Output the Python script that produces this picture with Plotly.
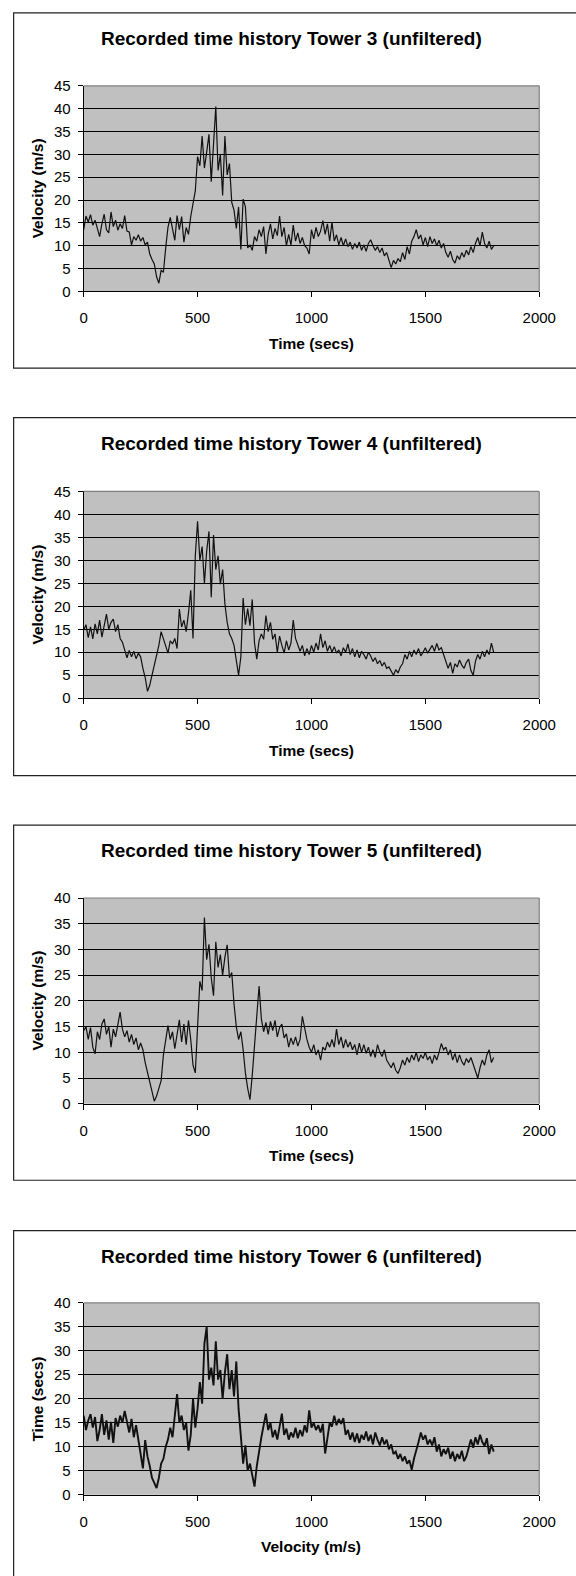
import plotly.graph_objects as go

W, H = 576, 1576

time_s = list(range(0, 1810, 10))

tower3 = [
    13.5, 16.5, 15.2, 16.8, 14.5, 15.6, 13.8, 12.0, 14.8, 16.9,
    13.5, 12.8, 17.4, 14.2, 15.6, 13.4, 14.8, 13.8, 16.6, 13.2,
    13.0, 10.2, 12.0, 11.2, 12.4, 11.0, 11.8, 10.2, 10.8, 8.2,
    7.0, 6.0, 3.2, 1.8, 4.6, 4.2, 9.5, 14.0, 16.2, 14.0,
    11.2, 16.6, 13.5, 16.4, 10.8, 14.0, 12.5, 16.4, 19.0, 22.0,
    29.5, 27.5, 34.0, 27.0, 30.5, 34.4, 24.0, 33.0, 40.5, 26.5,
    30.0, 21.0, 34.0, 25.5, 28.0, 19.5, 17.8, 13.8, 18.5, 9.2,
    20.2, 18.5, 9.5, 10.2, 9.0, 12.0, 11.0, 13.5, 12.0, 14.2,
    8.2, 12.5, 14.8, 11.5, 13.8, 12.2, 16.5, 12.0, 14.0, 10.0,
    12.5, 10.2, 14.5, 11.0, 12.8, 10.5, 11.8, 10.0, 9.5, 8.2,
    13.5, 11.5, 14.0, 12.0, 13.2, 15.5, 12.5, 14.8, 11.0, 15.2,
    11.0, 12.4, 10.2, 11.8, 10.0, 11.5, 9.8, 10.8, 9.2, 10.5,
    9.5, 10.8, 9.0, 10.2, 8.8, 10.5, 11.3, 10.0, 9.0, 9.8,
    8.5, 9.5, 7.8, 8.5, 7.0, 5.2, 6.8, 6.0, 7.2, 6.5,
    8.5, 7.0, 9.8, 8.2, 11.0, 12.0, 13.5, 11.5, 12.4, 10.2,
    11.8, 9.8, 12.0, 10.5, 11.5, 10.0, 11.2, 9.5, 10.5, 8.5,
    7.5, 8.8, 7.0, 6.2, 7.8, 7.0, 8.5, 7.5, 9.0, 8.0,
    9.8, 8.5, 10.5, 11.8, 10.0, 13.0, 10.5, 9.5, 11.0, 9.2, 10.0,
]

tower4 = [
    14.8, 16.0, 13.2, 15.5, 12.9, 16.2, 14.0, 17.0, 13.3, 15.5,
    18.3, 15.0, 16.5, 17.2, 14.5, 16.0, 13.0, 12.2, 10.5, 8.8,
    10.4, 9.0, 10.2, 8.6, 9.8, 9.0, 6.5, 4.5, 1.5, 2.8,
    5.0, 7.0, 9.0, 11.5, 14.5, 13.0, 11.0, 9.8, 12.5, 11.8,
    13.0, 10.8, 19.4, 15.5, 17.0, 14.5, 18.5, 23.5, 13.0, 31.0,
    38.5, 30.0, 33.0, 25.0, 32.0, 36.3, 22.0, 35.5, 28.0, 31.0,
    24.8, 28.0, 20.5, 16.5, 14.0, 13.0, 11.5, 8.0, 5.0, 9.0,
    21.8, 16.0, 19.5, 15.8, 21.5, 12.0, 8.5, 12.5, 14.0, 12.8,
    18.0, 14.5, 16.5, 12.8, 14.0, 10.0, 13.5, 11.5, 9.8, 12.5,
    10.5, 12.0, 17.0, 13.0, 11.8, 10.2, 11.5, 9.2, 10.8, 9.5,
    11.5, 10.0, 12.0, 10.5, 14.0, 11.0, 12.5, 10.2, 11.5, 10.0,
    11.2, 9.8, 10.5, 9.2, 11.0, 10.0, 11.8, 9.5, 10.8, 9.0,
    10.5, 8.8, 10.2, 9.5, 8.5, 10.0, 9.2, 8.0, 8.8, 7.5,
    8.2, 7.0, 7.8, 6.5, 6.8, 5.8, 5.0, 6.2, 5.5, 6.8,
    7.5, 9.5, 8.5, 10.2, 9.0, 10.5, 9.5, 10.8, 9.2, 10.0,
    11.0, 9.8, 10.8, 11.5, 10.2, 11.9, 10.5, 11.0, 9.5, 8.0,
    6.5, 7.8, 5.4, 7.5, 6.8, 8.3, 7.2, 6.5, 7.8, 8.5,
    6.0, 5.0, 8.0, 9.5, 8.5, 10.2, 9.0, 10.5, 9.5, 12.0, 10.0,
]

tower5 = [
    14.2, 15.0, 12.5, 14.8, 11.0, 9.7, 14.0, 12.5, 15.5, 16.5,
    13.5, 15.0, 11.0, 14.5, 13.0, 15.5, 17.8, 14.5, 13.0, 14.2,
    12.0, 13.5, 11.5, 12.8, 10.5, 11.8, 10.5, 8.0, 6.0, 4.5,
    2.0, 0.5, 1.5, 2.8, 4.5, 9.5, 12.5, 15.2, 12.5, 14.0,
    10.7, 13.5, 16.3, 12.0, 15.5, 11.5, 16.2, 12.5, 7.5, 6.0,
    15.5, 23.8, 22.0, 36.2, 28.0, 31.0, 24.5, 21.0, 31.5, 26.5,
    29.0, 25.0, 28.5, 30.9, 24.5, 25.5, 19.4, 15.0, 12.5, 14.0,
    10.5, 6.0, 3.0, 0.8, 5.5, 12.0, 17.4, 22.9, 16.5, 14.0,
    15.8, 13.5, 16.0, 14.2, 16.2, 13.0, 14.8, 15.5, 12.8, 13.6,
    11.0, 12.8, 11.5, 13.0, 11.2, 12.5, 17.0, 14.5, 12.5, 11.0,
    10.0, 11.5, 9.5, 10.5, 8.5, 11.0, 10.4, 12.0, 11.0, 12.5,
    11.0, 14.5, 11.5, 13.0, 10.8, 12.5, 11.0, 12.0, 10.5, 11.5,
    9.5, 11.8, 10.0, 11.5, 9.8, 11.0, 9.2, 10.5, 9.0, 11.5,
    10.0, 9.2, 10.5, 8.5, 7.8, 7.0, 8.0, 6.5, 5.9, 7.0,
    8.5, 7.5, 9.0, 8.0, 9.5, 8.5, 10.0, 8.2, 9.5, 8.8,
    10.0, 8.5, 9.2, 7.8, 9.5, 8.5, 10.0, 11.7, 10.5, 11.0,
    9.5, 10.5, 8.5, 9.8, 8.0, 9.5, 8.2, 7.5, 8.8, 8.0,
    9.0, 7.5, 6.5, 5.0, 7.0, 8.5, 7.5, 9.5, 10.5, 8.0, 9.0,
]

tower6 = [
    16.5, 13.5, 15.5, 16.8, 14.0, 16.2, 11.2, 13.5, 16.8, 12.5,
    15.5, 11.5, 15.2, 10.8, 16.0, 14.2, 16.5, 15.0, 17.5, 15.0,
    13.0, 15.8, 12.0, 14.5, 11.7, 9.0, 5.5, 11.4, 8.0, 6.0,
    3.5, 2.5, 1.4, 3.5, 6.5, 7.5, 10.0, 11.5, 14.0, 12.0,
    16.5, 21.0, 15.0, 16.5, 13.5, 15.0, 9.2, 12.5, 20.0, 14.0,
    18.0, 23.5, 19.0, 31.5, 35.0, 24.0, 26.5, 22.8, 32.0, 24.0,
    26.0, 20.0, 25.5, 29.3, 22.0, 26.0, 20.5, 27.8, 17.9, 12.0,
    6.5, 10.3, 5.0, 6.5, 4.2, 1.7, 6.0, 9.5, 12.0, 14.5,
    16.9, 13.5, 15.0, 12.0, 13.5, 11.5, 14.0, 16.9, 12.5, 13.8,
    11.5, 13.0, 12.0, 14.0, 11.8, 13.5, 12.2, 14.5, 13.0, 17.6,
    14.0, 15.0, 13.5, 14.5, 13.0, 14.8, 8.6, 12.0, 15.0, 14.2,
    16.5, 14.5, 15.8, 14.8, 16.0, 12.5, 13.5, 11.5, 13.0, 11.0,
    12.8, 10.8, 12.5, 11.5, 13.2, 11.2, 12.5, 10.5, 13.0, 11.5,
    10.3, 12.0, 10.5, 11.5, 9.5, 10.5, 8.5, 9.0, 7.5, 8.5,
    7.0, 8.0, 6.5, 7.2, 5.2, 7.5, 9.0, 11.0, 13.0, 11.5,
    12.4, 10.5, 11.5, 10.3, 12.0, 9.0, 10.5, 8.0, 9.5, 8.5,
    9.8, 7.5, 9.0, 7.0, 8.5, 7.5, 9.2, 7.0, 8.0, 10.0,
    11.5, 9.8, 12.0, 10.5, 12.5, 11.0, 10.2, 11.8, 8.5, 10.5, 9.0,
]

titles = [
    "Recorded time history Tower 3 (unfiltered)",
    "Recorded time history Tower 4 (unfiltered)",
    "Recorded time history Tower 5 (unfiltered)",
    "Recorded time history Tower 6 (unfiltered)",
]
x_titles = ["Time (secs)", "Time (secs)", "Time (secs)", "Velocity (m/s)"]
y_titles = ["Velocity (m/s)", "Velocity (m/s)", "Velocity (m/s)", "Time (secs)"]
y_max = [45, 45, 40, 40]
x_ticks = [0, 500, 1000, 1500, 2000]
series = [tower3, tower4, tower5, tower6]

# layout in pixels
box_top = [4, 413, 825, 1235]
box_bot = [363, 775, 1184, 1600]
plot_top = [77.7, 487.7, 898.7, 1308.0]
plot_bot = [285.5, 696.7, 1106.7, 1502.0]
plot_l, plot_r = 82.7, 555.5
line_w = [1.2, 1.2, 1.2, 1.9]

FONT = "Liberation Sans, Arial, sans-serif"

def px_x(p):
    return p / W

def px_y(p):
    return 1 - p / H

fig = go.Figure()
shapes = []
annotations = []

for i in range(4):
    n = str(i + 1) if i > 0 else ""
    xa = "x" + n
    ya = "y" + n
    fig.add_trace(go.Scatter(
        x=time_s, y=series[i], mode="lines",
        line=dict(color="#111111", width=line_w[i]),
        xaxis=xa, yaxis=ya, showlegend=False, hoverinfo="skip",
    ))
    axis_common = dict(
        showline=True, linecolor="black", linewidth=1,
        ticks="outside", ticklen=5, tickcolor="black", tickwidth=1,
        tickfont=dict(family=FONT, size=15, color="black"),
        zeroline=False, fixedrange=True,
    )
    fig.layout["xaxis" + n] = dict(
        domain=[px_x(plot_l), px_x(plot_r)],
        anchor=ya, range=[0, 2000], tickvals=x_ticks,
        showgrid=False, ticklabelstandoff=8, **axis_common,
    )
    fig.layout["yaxis" + n] = dict(
        domain=[px_y(plot_bot[i]), px_y(plot_top[i])],
        anchor=xa, range=[0, y_max[i]], dtick=5, tick0=0,
        showgrid=True, gridcolor="black", gridwidth=1,
        ticklabelstandoff=4, **axis_common,
    )
    # panel frame
    shapes.append(dict(
        type="rect", xref="paper", yref="paper",
        x0=px_x(10), x1=px_x(620), y0=px_y(box_bot[i]), y1=px_y(box_top[i]),
        line=dict(color="#222222", width=1.2), fillcolor="rgba(0,0,0,0)",
        layer="below",
    ))
    # plot area grey border (top and right)
    shapes.append(dict(
        type="line", xref="paper", yref="paper",
        x0=px_x(plot_l), x1=px_x(plot_r), y0=px_y(plot_top[i]), y1=px_y(plot_top[i]),
        line=dict(color="#808080", width=1.2),
    ))
    shapes.append(dict(
        type="line", xref="paper", yref="paper",
        x0=px_x(plot_r), x1=px_x(plot_r), y0=px_y(plot_bot[i]), y1=px_y(plot_top[i]),
        line=dict(color="#808080", width=1.2),
    ))
    annotations.append(dict(
        text="<b>%s</b>" % titles[i], xref="paper", yref="paper",
        x=px_x(298), y=px_y(box_top[i] + 26), xanchor="center", yanchor="middle",
        showarrow=False, font=dict(family=FONT, size=19, color="black"),
    ))
    annotations.append(dict(
        text="<b>%s</b>" % x_titles[i], xref="paper", yref="paper",
        x=px_x((plot_l + plot_r) / 2), y=px_y(plot_bot[i] + 52.5),
        xanchor="center", yanchor="middle",
        showarrow=False, font=dict(family=FONT, size=15.5, color="black"),
    ))
    annotations.append(dict(
        text="<b>%s</b>" % y_titles[i], xref="paper", yref="paper",
        x=px_x(35), y=px_y((plot_top[i] + plot_bot[i]) / 2),
        xanchor="center", yanchor="middle", textangle=-90,
        showarrow=False, font=dict(family=FONT, size=15.5, color="black"),
    ))

fig.update_layout(
    width=W, height=H, autosize=False,
    margin=dict(l=0, r=0, t=0, b=0),
    paper_bgcolor="white", plot_bgcolor="#C0C0C0",
    shapes=shapes, annotations=annotations,
    font=dict(family=FONT, color="black"),
)

fig.write_html(
    "out.html",
    config={"displayModeBar": False, "staticPlot": True},
    post_script="document.body.style.margin='0';document.body.style.overflow='hidden';",
)
